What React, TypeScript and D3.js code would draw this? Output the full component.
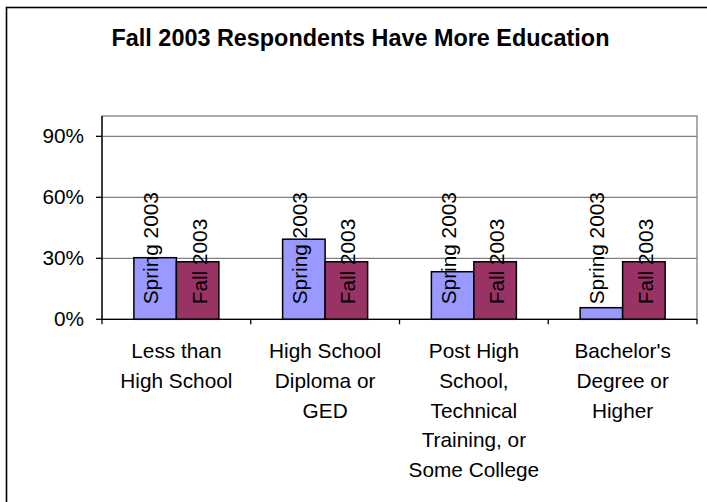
import React from "react";
import * as d3 from "d3";

const title = "Fall 2003 Respondents Have More Education";
const categories = [
  "Less than High School",
  "High School Diploma or GED",
  "Post High School, Technical Training, or Some College",
  "Bachelor's Degree or Higher",
];
const categoryLines = [
  ["Less than", "High School"],
  ["High School", "Diploma or", "GED"],
  ["Post High", "School,", "Technical", "Training, or", "Some College"],
  ["Bachelor's", "Degree or", "Higher"],
];
const seriesNames = ["Spring 2003", "Fall 2003"];
const springValues = [0.303, 0.394, 0.234, 0.057];
const fallValues = [0.283, 0.283, 0.283, 0.283];
const yTicks = [0, 0.3, 0.6, 0.9];

const W = 707;
const H = 502;
const plot = { left: 102, right: 697, top: 116, bottom: 319.3 };
const colors = ["#9999FF", "#993366"];
const labelShift = [3, 9];
const FONT = "Arial, 'Liberation Sans', Helvetica, sans-serif";

export default function App() {
  const x = d3
    .scaleBand<string>()
    .domain(categories)
    .range([plot.left, plot.right])
    .paddingInner(0)
    .paddingOuter(0);
  const y = d3.scaleLinear().domain([0, 1]).range([plot.bottom, plot.top]);
  const bw = x.bandwidth() / 3.5;
  const series = [springValues, fallValues];
  const boundaries = categories.map((c) => x(c) as number).concat([plot.right]);

  return (
    <svg
      width={W}
      height={H}
      style={{ position: "absolute", left: 0, top: 0, background: "#fff" }}
      fontFamily={FONT}
    >
      <rect x={0} y={0} width={W} height={H} fill="#fff" />
      {/* outer chart border */}
      <rect x={6.5} y={7.5} width={W + 10} height={H + 10} fill="none" stroke="#000" strokeWidth={1.6} />
      <text x={360.5} y={45.7} textAnchor="middle" fontWeight="bold" fontSize={23.4} fill="#000">
        {title}
      </text>
      {/* plot area border */}
      <rect
        x={plot.left}
        y={plot.top}
        width={plot.right - plot.left}
        height={plot.bottom - plot.top}
        fill="#fff"
        stroke="#808080"
        strokeWidth={1.3}
      />
      {/* gridlines */}
      {yTicks
        .filter((t) => t > 0)
        .map((t) => (
          <line key={t} x1={plot.left} x2={plot.right} y1={y(t)} y2={y(t)} stroke="#808080" strokeWidth={1.3} />
        ))}
      {/* bars */}
      {series.map((vals, si) =>
        categories.map((c, ci) => {
          const cx = (x(c) as number) + x.bandwidth() / 2;
          const x0 = cx - bw + si * bw;
          return (
            <rect
              key={`${si}-${ci}`}
              x={x0}
              y={y(vals[ci])}
              width={bw}
              height={y(0) - y(vals[ci])}
              fill={colors[si]}
              stroke="#000"
              strokeWidth={1.5}
            />
          );
        })
      )}
      {/* data labels */}
      {series.map((vals, si) =>
        categories.map((c, ci) => {
          const cx = (x(c) as number) + x.bandwidth() / 2;
          const bc = cx - bw + si * bw + bw / 2 + labelShift[si];
          const by = y(0) - 15;
          return (
            <text
              key={`l-${si}-${ci}`}
              transform={`translate(${bc},${by}) rotate(-90)`}
              textAnchor="start"
              fontSize={20.8}
              fill="#000"
            >
              {seriesNames[si]}
            </text>
          );
        })
      )}
      {/* y axis */}
      <line x1={plot.left} x2={plot.left} y1={plot.top} y2={plot.bottom} stroke="#000" strokeWidth={1.3} />
      {yTicks.map((t) => (
        <g key={`yt-${t}`}>
          <line x1={plot.left - 6} x2={plot.left} y1={y(t)} y2={y(t)} stroke="#000" strokeWidth={1.3} />
          <text x={84} y={y(t)} dy="0.34em" textAnchor="end" fontSize={20.8} fill="#000">
            {d3.format(".0%")(t)}
          </text>
        </g>
      ))}
      {/* x axis */}
      <line x1={plot.left} x2={plot.right} y1={plot.bottom} y2={plot.bottom} stroke="#000" strokeWidth={1.3} />
      {boundaries.map((b, i) => (
        <line key={`xt-${i}`} x1={b} x2={b} y1={plot.bottom} y2={plot.bottom + 5} stroke="#000" strokeWidth={1.3} />
      ))}
      {categories.map((c, ci) => {
        const cx = (x(c) as number) + x.bandwidth() / 2;
        return (
          <text key={`c-${ci}`} textAnchor="middle" fontSize={20.8} fill="#000">
            {categoryLines[ci].map((ln, li) => (
              <tspan key={li} x={cx} y={358.3 + li * 29.6}>
                {ln}
              </tspan>
            ))}
          </text>
        );
      })}
    </svg>
  );
}
